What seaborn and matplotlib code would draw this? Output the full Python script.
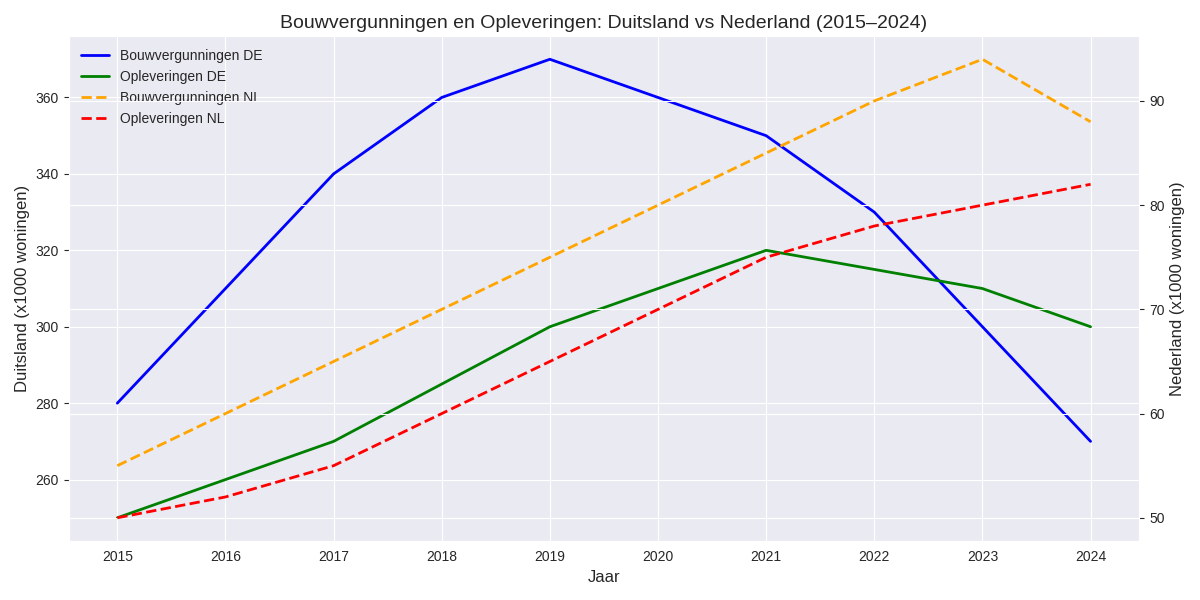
import matplotlib
matplotlib.use("Agg")
import matplotlib.pyplot as plt
import seaborn as sns
import pandas as pd

jaren = [2015, 2016, 2017, 2018, 2019, 2020, 2021, 2022, 2023, 2024]
vergunningen_de = [280, 310, 340, 360, 370, 360, 350, 330, 300, 270]
opleveringen_de = [250, 260, 270, 285, 300, 310, 320, 315, 310, 300]
vergunningen_nl = [55, 60, 65, 70, 75, 80, 85, 90, 94, 88]
opleveringen_nl = [50, 52, 55, 60, 65, 70, 75, 78, 80, 82]

sns.set_style("darkgrid")
plt.rcParams['font.family'] = ['Liberation Sans', 'DejaVu Sans']

df = pd.DataFrame({
    'Jaar': jaren,
    'vde': vergunningen_de,
    'ode': opleveringen_de,
    'vnl': vergunningen_nl,
    'onl': opleveringen_nl,
})

fig, ax1 = plt.subplots(figsize=(12, 6), dpi=100)
ax2 = ax1.twinx()

sns.lineplot(data=df, x='Jaar', y='vde', ax=ax1, color='blue', linewidth=2, label='Bouwvergunningen DE', legend=False)
sns.lineplot(data=df, x='Jaar', y='ode', ax=ax1, color='green', linewidth=2, label='Opleveringen DE', legend=False)
sns.lineplot(data=df, x='Jaar', y='vnl', ax=ax2, color='orange', linewidth=2, linestyle='--', label='Bouwvergunningen NL', legend=False)
sns.lineplot(data=df, x='Jaar', y='onl', ax=ax2, color='red', linewidth=2, linestyle='--', label='Opleveringen NL', legend=False)

ax1.set_xticks(jaren)
ax1.set_xlabel('Jaar', fontsize=12)
ax1.set_ylabel('Duitsland (x1000 woningen)', fontsize=12)
ax2.set_ylabel('Nederland (x1000 woningen)', fontsize=12)
ax1.tick_params(labelsize=10)
ax2.tick_params(labelsize=10)
ax1.set_title('Bouwvergunningen en Opleveringen: Duitsland vs Nederland (2015–2024)', fontsize=14)

h1, l1 = ax1.get_legend_handles_labels()
h2, l2 = ax2.get_legend_handles_labels()
ax1.legend(h1 + h2, l1 + l2, loc='upper left', fontsize=10, frameon=False)

fig.tight_layout()
fig.savefig('out.png')
